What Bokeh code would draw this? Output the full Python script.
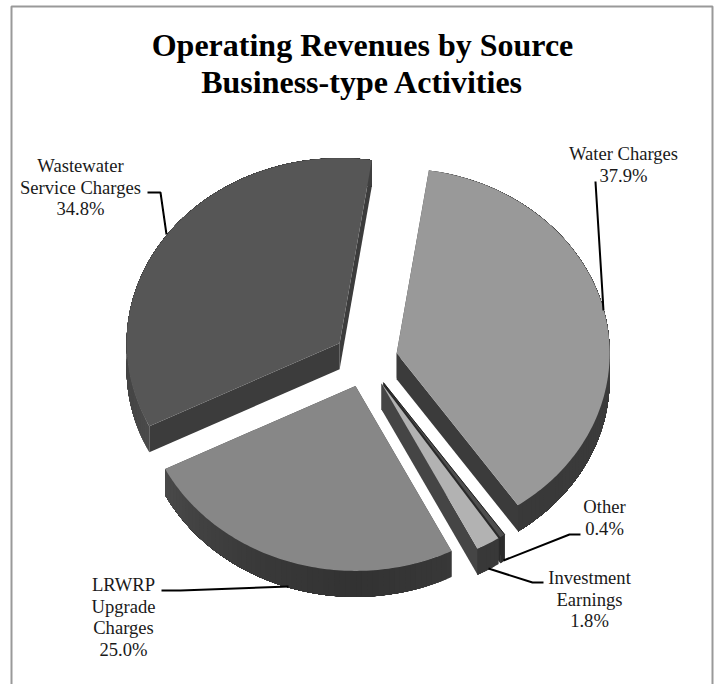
import numpy as np
from bokeh.embed import file_html
from bokeh.resources import INLINE
from bokeh.plotting import figure
from bokeh.models import Range1d
from bokeh.core.properties import value

# Revenue shares, clockwise from the first slice
sources = ["Water Charges", "Other", "Investment Earnings", "LRWRP Upgrade Charges", "Wastewater Service Charges"]
shares = [37.9, 0.4, 1.8, 25.0, 34.8]
top_colors = ["#999999", "#4e4e4e", "#b2b2b2", "#878787", "#565656"]
radial_colors = ["#3b3b3b", "#2a2a2a", "#454545", "#3a3a3a", "#3c3c3c"]
title_lines = ["Operating Revenues by Source", "Business-type Activities"]
label_lines = [
    ["Water Charges", "37.9%"],
    ["Other", "0.4%"],
    ["Investment", "Earnings", "1.8%"],
    ["LRWRP", "Upgrade", "Charges", "25.0%"],
    ["Wastewater", "Service Charges", "34.8%"],
]

# Pie geometry, in page pixels
CX, CY = 365.0, 359.0
RX, RY = 213.0, 185.0
DEPTH = 26.0
EXPLODE = 32.0
START_DEG = 81.3

p = figure(width=719, height=684, output_backend="svg", toolbar_location=None,
           x_range=Range1d(0, 719), y_range=Range1d(684, 0),
           min_border=0, outline_line_color=None, background_fill_color="white")
p.axis.visible = False
p.grid.visible = False

# Open frame round the chart; it runs off the bottom of the page
p.line([11, 11, 712, 712], [684, 6, 6, 684], line_color="#999999", line_width=2)


def side_shade(deg):
    """Grey level of the outer rim, darkest at the front of the pie."""
    d = deg % 360
    g = np.interp(d, [0, 180, 205, 240, 270, 297, 360], [60, 66, 74, 58, 50, 56, 60])
    h = int(round(g))
    return f"#{h:02x}{h:02x}{h:02x}"


def ellipse_pt(ox, oy, deg):
    a = np.radians(deg)
    return ox + RX * np.cos(a), oy - RY * np.sin(a)


fractions = np.array(shares) / sum(shares)
angle = START_DEG
slices = []
for frac, top, rad in zip(fractions, top_colors, radial_colors):
    span = frac * 360.0
    slices.append((angle, angle - span, top, rad))
    angle -= span

# Thin slices overlap, so the Other slice goes down before Investment Earnings
paint_order = [0, 4, 3, 1, 2]
for i in paint_order:
    a0, a1, top, rad = slices[i]
    mid = np.radians((a0 + a1) / 2)
    ox = CX + EXPLODE * np.cos(mid)
    oy = CY - EXPLODE * RY / RX * np.sin(mid)

    # Cut faces along both radii
    for edge in (a0, a1):
        ex, ey = ellipse_pt(ox, oy, edge)
        p.patch([ox, ex, ex, ox], [oy, ey, ey + DEPTH, oy + DEPTH],
                fill_color=rad, line_color=None)

    # Outer rim: overlapping bands running to the far end of the arc, so the
    # shade changes along it with no gaps between neighbours
    n_bands = max(2, int(abs(a0 - a1) / 1.5) + 1)
    steps = np.linspace(a0, a1, n_bands + 1)
    for s0, s1 in zip(steps[:-1], steps[1:]):
        band = np.linspace(s0, a1, max(2, int(abs(s0 - a1)) + 2))
        bx, by = ellipse_pt(ox, oy, band)
        shade = "#2c2c2c" if i == 1 else side_shade((s0 + s1) / 2)
        p.patch(np.r_[bx, bx[::-1]], np.r_[by, by[::-1] + DEPTH],
                fill_color=shade, line_color=None)

    # Top face
    arc = np.linspace(a0, a1, max(8, int(abs(a0 - a1)) + 2))
    ax, ay = ellipse_pt(ox, oy, arc)
    p.patch(np.r_[ox, ax], np.r_[oy, ay], fill_color=top, line_color=None)

    if i == 1:
        ex, ey = ellipse_pt(ox, oy, a0)
        p.line([ox, ex], [oy, ey], line_color="#222222", line_width=1)

# Leader lines from each label to its slice
leaders = [
    ([595, 603], [181, 310]),
    ([580, 569, 503], [534, 534, 560]),
    ([543, 532, 488], [582, 582, 568]),
    ([161, 180, 288], [590, 590, 586]),
    ([147, 160, 166], [192, 192, 234]),
]
for lx, ly in leaders:
    p.line(lx, ly, line_color="black", line_width=2)

# Titles
for line, ty in zip(title_lines, [44, 81]):
    p.text([362], [ty], text=[line], text_font=value("Liberation Serif"), text_font_style="bold",
           text_font_size="32px", text_align="center", text_baseline="middle", text_color="black")

# Slice labels, one text per line
label_centres = [(623, 153), (604, 506), (589, 577), (123, 584), (80, 165)]
LINE_STEP = 21.7
for lines, (tx, ty) in zip(label_lines, label_centres):
    ys = [ty + k * LINE_STEP for k in range(len(lines))]
    p.text([tx] * len(lines), ys, text=lines, text_font=value("Liberation Serif"),
           text_font_size="18.6px", text_align="center", text_baseline="middle", text_color="#1a1a1a")

open("out.html", "w").write(file_html(p, INLINE))
